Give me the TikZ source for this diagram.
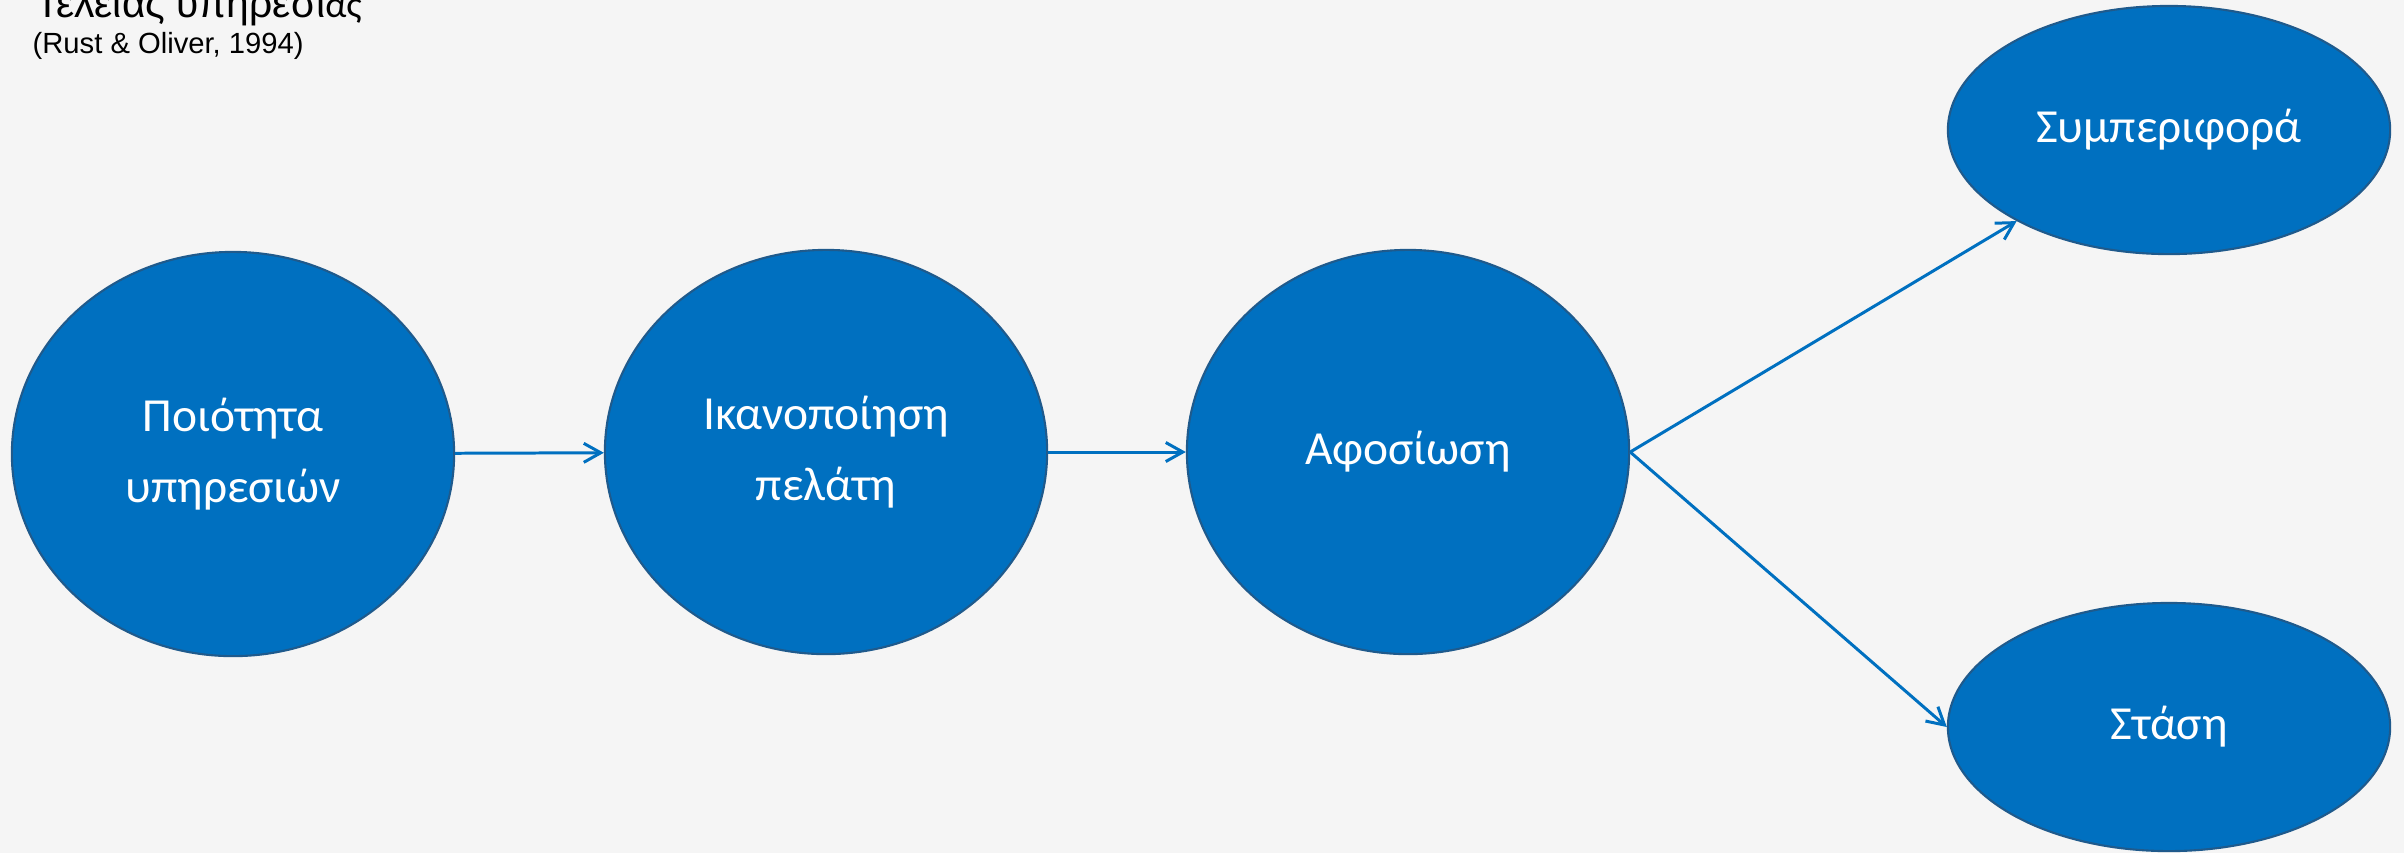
\documentclass[tikz,border=0pt]{standalone}
\usepackage{fontspec}
\setmainfont{Carlito}
\newfontfamily\arialfont{Liberation Sans}
\usetikzlibrary{arrows.meta,shapes.geometric}
\definecolor{SQBlue}{HTML}{0070C0}
\definecolor{SQEdge}{HTML}{1F5A8C}
\definecolor{SQPage}{HTML}{F5F5F5}

\begin{document}
\begin{tikzpicture}[
  x=0.01cm,y=-0.01cm,
  font=\fontsize{13.5}{20}\selectfont,
  concept/.style={ellipse,draw=SQEdge,line width=0.6pt,fill=SQBlue,text=white,align=center,inner sep=0pt,minimum width=4.42cm,minimum height=4.04cm},
  outcome/.style={concept,minimum height=2.48cm},
  link/.style={-{Straight Barb[length=1.7mm,width=1.9mm]},line width=0.85pt,draw=SQBlue}
]
\useasboundingbox (0,0) rectangle (2404,853);
\fill[SQPage] (0,0) rectangle (2404,853);
\clip (0,0) rectangle (2404,853);

% heading, cut at the top edge
\node[anchor=base west,inner sep=0pt,font=\arialfont\fontsize{11.6}{14}\selectfont] (title) at (35,17)
  {Τέλειας υπηρεσί{\rmfamily\fontsize{10.6}{13}\selectfont ας}};
\node[anchor=base west,inner sep=0pt,font=\arialfont\fontsize{8.3}{10}\selectfont] (source) at (32,53)
  {(Rust \& Oliver, 1994)};

\node[concept] (quality) at (233,454) {Ποιότητα\\υπηρεσιών};
\node[concept] (satisf) at (826,452) {Ικανοποίηση\\πελάτη};
\node[concept] (loyalty) at (1408,452) {Αφοσίωση};
\node[outcome] (behav) at (2169,130) {Συμπεριφορά};
\node[outcome] (attit) at (2169,727) {Στάση};

\draw[link] (quality) -- (satisf);
\draw[link] (satisf) -- (loyalty);
\draw[link] (loyalty.east) -- (behav);
\draw[link] (loyalty.east) -- (attit.west);
\end{tikzpicture}
\end{document}
